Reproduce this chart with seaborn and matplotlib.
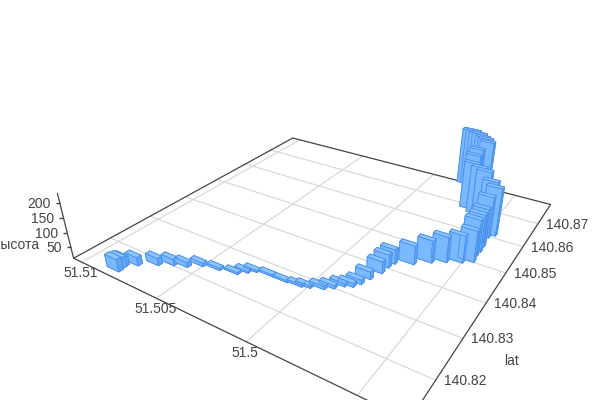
import numpy as np
import matplotlib
matplotlib.use("Agg")
import matplotlib.pyplot as plt
import seaborn as sns

lon = [50830, 50836, 50839, 50793, 50715, 50653, 50591, 50535, 50448, 50359, 50326, 50295, 50216, 50133, 50060, 50023,
       49967, 49933, 49902, 49868, 49849, 49833, 49811, 49807, 49797, 49720, 49656, 49599, 49535, 49493, 49500, 49497,
       49500, 49509, 49486, 49523, 49581, 49625, 49676, 49700, 49712, 49803, 49783, 49763, 49744, 49724, 49705, 49686]
lat = [8134, 8145, 8151, 8165, 8185, 8200, 8209, 8226, 8233, 8241, 8254, 8264, 8269, 8269, 8272, 8277,
       8287, 8298, 8312, 8319, 8333, 8354, 8380, 8402, 8418, 8435, 8457, 8473, 8487, 8500, 8521, 8538,
       8559, 8594, 8608, 8626, 8653, 8670, 8684, 8714, 8744, 8790, 8789, 8788, 8787, 8786, 8785, 8778]
height = [52, 45, 38, 38, 34, 31, 26, 21, 17, 15, 15, 15, 15, 15, 16, 16,
          19, 19, 20, 22, 24, 35, 50, 54, 59, 74, 86, 97, 103, 118, 136, 140,
          142, 154, 179, 181, 188, 183, 181, 188, 190, 222, 222, 217, 217, 209, 205, 200]
x_ticks = [51.51, 51.505, 51.5, 51.495]
x_labels = ["51.51", "51.505", "51.5", "51.495"]
y_ticks = [140.82, 140.83, 140.84, 140.85, 140.86, 140.87]
z_ticks = [50, 100, 150, 200]

sns.set_theme(style="white")
plt.rcParams["font.family"] = ["Liberation Sans", "DejaVu Sans"]
text_col = "#444444"
grid_col = "#d9d9d9"

xs = 51 + np.array(lon) / 1e5
ys = 140 + np.array(lat) / 1e4
zs = np.array(height, dtype=float)
x0, x1, y0, y1, z0, z1 = 51.5106, 51.493, 140.8118, 140.8795, 9.25, 230.04

fig = plt.figure(figsize=(6, 4), dpi=100)
ax = fig.add_axes([124.99 / 600, -4.92 / 400, 400 / 600, 1], projection="3d")
ax.view_init(28.4565, -57.1817, -0.0151)
ax.set_proj_type("persp", focal_length=0.2725)
ax.set_box_aspect((0.9982, 1, 0.1972), zoom=1.2225)
ax.set_xlim(x0, x1)
ax.set_ylim(y0, y1)
ax.set_zlim(z0, z1)
ax.set_axis_off()
ax.computed_zorder = False

# floor grid
for x in x_ticks:
    ax.plot([x, x], [y0, y1], [z0, z0], color=grid_col, lw=0.9, clip_on=False, zorder=1)
for y in y_ticks:
    ax.plot([x0, x1], [y, y], [z0, z0], color=grid_col, lw=0.9, clip_on=False, zorder=1)
ax.plot([x0, x1, x1, x0, x0], [y0, y0, y1, y1, y0], [z0] * 5, color=text_col, lw=0.9, clip_on=False, zorder=2)
ax.plot([x0, x0], [y0, y0], [z0, z1], color=text_col, lw=0.9, clip_on=False, zorder=2)

# top and sides get their own blue
side = "#7ab8ff"
faces = [side, "#8ec5ff", side, side, "#5fa5f5", "#5fa5f5"] * len(xs)
dx, dy = -0.0008, 0.001
bars = ax.bar3d(xs - dx / 2, ys, np.full(len(xs), z0), dx, dy, zs - z0, color=faces,
                edgecolor="#4a90ec", linewidth=0.6, shade=False, clip_on=False, zorder=3)


def put(label, x, y, z, ox, oy, ha):
    # tick text sits a few pixels from its projected data position
    M = ax.get_proj()
    v = M @ np.array([x, y, z, 1.0])
    ax.annotate(label, (v[0] / v[3], v[1] / v[3]), xytext=(ox * 0.72, oy * 0.72), textcoords="offset points",
                ha=ha, va="center", color=text_col, fontsize=10, annotation_clip=False)


for x, lab in zip(x_ticks, x_labels):
    put(lab, x, y0, z0, -1, -11, "center")
for y in y_ticks:
    put("%.2f" % y, x1, y, z0, 8, -1, "left")
for z in z_ticks:
    put(str(z), x0, y0, z, -9, -1.5, "right")
    ax.plot([x0], [y0], [z], marker=0, ms=3, color=text_col, clip_on=False, zorder=2)
put("высота", x0, y0, 90, -29, -10, "right")
put("lat", x1, 140.826, z0, 52, -7, "left")

fig.savefig("out.png", dpi=100)
